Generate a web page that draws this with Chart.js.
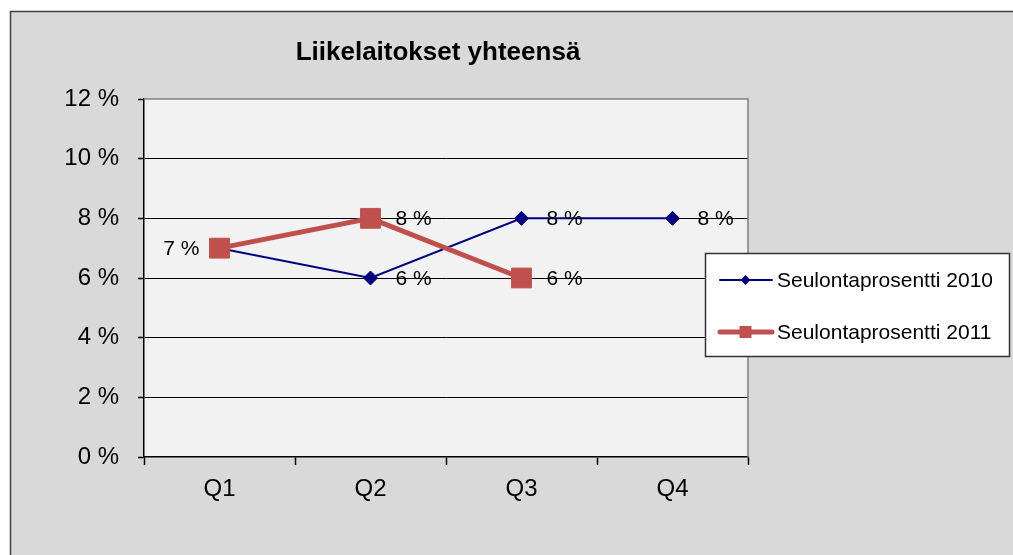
<!DOCTYPE html>
<html>
<head>
<meta charset="utf-8">
<script src="https://cdn.jsdelivr.net/npm/chart.js@4/dist/chart.umd.min.js"></script>
<style>
  html, body { margin: 0; padding: 0; background: #fff; overflow: hidden; }
  canvas { display: block; }
</style>
</head>
<body>
<canvas id="chart" width="1013" height="555"></canvas>
<script>
// --- Data ---
const quarters = ["Q1", "Q2", "Q3", "Q4"];
const rate2010 = [7, 6, 8, 8];
const rate2011 = [7, 8, 6, null];
const yTicks = [0, 2, 4, 6, 8, 10, 12];

const FONT = "'Liberation Sans', Arial, sans-serif";
const BLUE = "#000080";
const RED = "#c0504d";

// which side each value label sits on (per dataset)
const labelSide = [
  [null, "right", "right", "right"],
  ["left", "right", "right", null]
];

// --- Background, frame and plot area ---
const backgroundPlugin = {
  id: "background",
  beforeDraw(chart) {
    const ctx = chart.ctx;
    const a = chart.chartArea;
    ctx.save();
    ctx.fillStyle = "#fff";
    ctx.fillRect(0, 0, chart.width, chart.height);
    ctx.fillStyle = "#d9d9d9";
    ctx.fillRect(10, 11, chart.width, chart.height);
    ctx.strokeStyle = "#404040";
    ctx.lineWidth = 1.5;
    ctx.strokeRect(10.5, 11.5, chart.width + 10, chart.height + 10);
    ctx.fillStyle = "#f2f2f2";
    ctx.fillRect(a.left, a.top, a.right - a.left, a.bottom - a.top);
    ctx.restore();
  },
  beforeDatasetsDraw(chart) {
    const ctx = chart.ctx;
    const a = chart.chartArea;
    ctx.save();
    ctx.strokeStyle = "#808080";
    ctx.lineWidth = 1.5;
    ctx.beginPath();
    ctx.moveTo(a.left, a.top);
    ctx.lineTo(a.right, a.top);
    ctx.lineTo(a.right, a.bottom);
    ctx.stroke();
    // title
    ctx.fillStyle = "#000";
    ctx.font = "bold 26px " + FONT;
    ctx.textAlign = "center";
    ctx.textBaseline = "middle";
    ctx.fillText("Liikelaitokset yhteensä", 438, 53);
    ctx.restore();
  }
};

// --- Value labels next to the points ---
const valueLabelPlugin = {
  id: "valueLabels",
  afterDatasetsDraw(chart) {
    const ctx = chart.ctx;
    ctx.save();
    ctx.font = "21px " + FONT;
    ctx.fillStyle = "#000";
    ctx.textBaseline = "middle";
    chart.data.datasets.forEach((ds, di) => {
      const meta = chart.getDatasetMeta(di);
      meta.data.forEach((pt, i) => {
        const side = labelSide[di][i];
        if (!side || ds.data[i] == null) return;
        const txt = ds.data[i] + " %";
        if (side === "right") {
          ctx.textAlign = "left";
          ctx.fillText(txt, pt.x + 25, pt.y + 1);
        } else {
          ctx.textAlign = "right";
          ctx.fillText(txt, pt.x - 20, pt.y + 1);
        }
      });
    });
    ctx.restore();
  }
};

// --- Legend box drawn over the right edge ---
const legendPlugin = {
  id: "boxLegend",
  afterDraw(chart) {
    const ctx = chart.ctx;
    ctx.save();
    ctx.fillStyle = "#fff";
    ctx.fillRect(705.5, 253.5, 304, 103);
    ctx.strokeStyle = "#333";
    ctx.lineWidth = 1.5;
    ctx.strokeRect(705.5, 253.5, 304, 103);

    const entries = [
      { text: chart.data.datasets[0].label, color: BLUE, width: 2, y: 280, mark: "diamond" },
      { text: chart.data.datasets[1].label, color: RED, width: 5, y: 332, mark: "square" }
    ];
    entries.forEach(e => {
      ctx.strokeStyle = e.color;
      ctx.lineWidth = e.width;
      ctx.lineCap = "round";
      ctx.beginPath();
      ctx.moveTo(720, e.y);
      ctx.lineTo(772, e.y);
      ctx.stroke();
      ctx.fillStyle = e.color;
      ctx.beginPath();
      if (e.mark === "diamond") {
        ctx.moveTo(745.5, e.y - 5);
        ctx.lineTo(750.5, e.y);
        ctx.lineTo(745.5, e.y + 5);
        ctx.lineTo(740.5, e.y);
        ctx.closePath();
      } else {
        ctx.rect(739.5, e.y - 6, 12, 12);
      }
      ctx.fill();
      ctx.fillStyle = "#000";
      ctx.font = "21px " + FONT;
      ctx.textAlign = "left";
      ctx.textBaseline = "middle";
      ctx.fillText(e.text, 777, e.y + 1);
    });
    ctx.restore();
  }
};

new Chart(document.getElementById("chart"), {
  type: "line",
  data: {
    labels: quarters,
    datasets: [
      {
        label: "Seulontaprosentti 2010",
        data: rate2010,
        borderColor: BLUE,
        backgroundColor: BLUE,
        borderWidth: 2,
        pointStyle: "rectRot",
        pointRadius: 7,
        pointBorderWidth: 1,
        tension: 0,
        order: 1
      },
      {
        label: "Seulontaprosentti 2011",
        data: rate2011,
        borderColor: RED,
        backgroundColor: RED,
        borderWidth: 5,
        pointStyle: "rect",
        pointRadius: 14,
        pointBorderWidth: 1,
        tension: 0,
        order: 0
      }
    ]
  },
  options: {
    responsive: false,
    animation: false,
    devicePixelRatio: 1,
    layout: { padding: { top: 99, right: 265, left: 0, bottom: 0 } },
    plugins: {
      legend: { display: false },
      title: { display: false },
      tooltip: { enabled: false }
    },
    scales: {
      x: {
        offset: true,
        afterFit: s => { s.height = 98; },
        grid: {
          offset: true,
          drawOnChartArea: false,
          drawTicks: true,
          tickLength: 8,
          tickColor: "#000",
          tickWidth: 1.5
        },
        border: { color: "#000", width: 1.5 },
        ticks: { color: "#000", font: { family: FONT, size: 24 }, padding: 10 }
      },
      y: {
        min: 0,
        max: 12,
        afterFit: s => { s.width = 144; },
        afterBuildTicks: s => { s.ticks = yTicks.map(v => ({ value: v })); },
        grid: {
          color: c => (c.tick && (c.tick.value === 0 || c.tick.value === 12)) ? "rgba(0,0,0,0)" : "#000",
          lineWidth: 1,
          drawTicks: true,
          tickLength: 6,
          tickColor: "#000",
          tickWidth: 1.5
        },
        border: { color: "#000", width: 1.5 },
        ticks: {
          color: "#000",
          font: { family: FONT, size: 24 },
          padding: 19,
          callback: v => v + " %"
        }
      }
    }
  },
  plugins: [backgroundPlugin, valueLabelPlugin, legendPlugin]
});
</script>
</body>
</html>
